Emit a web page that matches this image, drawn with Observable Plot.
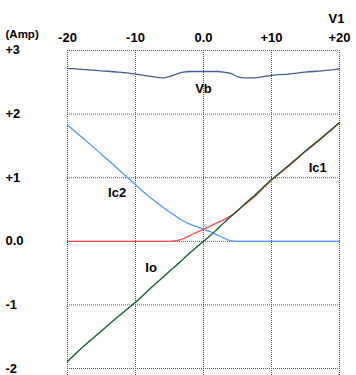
<!DOCTYPE html>
<html>
<head>
<meta charset="utf-8">
<script src="https://cdn.jsdelivr.net/npm/d3@7"></script>
<script src="https://cdn.jsdelivr.net/npm/@observablehq/plot@0.6"></script>
<style>
  html, body { margin: 0; padding: 0; background: #fff; }
  #chart svg { display: block; }
</style>
</head>
<body>
<div id="chart"></div>
<script>
const V   = [-20,-17.5,-15,-12.5,-10,-7.5,-6,-5,-4,-3,-2,-1,0,1,2,3,4,5,6,7.5,10,12.5,15,17.5,20];
const Vb  = [2.72,2.70,2.68,2.66,2.63,2.59,2.57,2.59,2.63,2.66,2.67,2.67,2.67,2.67,2.67,2.66,2.64,2.59,2.57,2.57,2.61,2.63,2.66,2.68,2.71];
const Ic1 = [0,0,0,0,0,0,0,0,0.01,0.04,0.09,0.14,0.19,0.24,0.29,0.34,0.40,0.48,0.57,0.70,0.96,1.18,1.41,1.63,1.86];
const Ic2 = [1.83,1.60,1.37,1.13,0.89,0.66,0.54,0.46,0.39,0.32,0.27,0.23,0.19,0.15,0.10,0.05,0.01,0,0,0,0,0,0,0,0];
const Io  = [-1.89,-1.64,-1.41,-1.18,-0.96,-0.71,-0.57,-0.47,-0.38,-0.28,-0.18,-0.09,0.0,0.09,0.19,0.29,0.39,0.48,0.58,0.72,0.97,1.19,1.42,1.64,1.87];

const xTicks = [-20,-10,0,10,20];
const yTicks = [3,2,1,0,-1,-2];
const seriesNames = ["Vb","Ic2","Ic1","Io"];
const seriesColors = ["#3f5f91","#4a98ff","#ff4848","#0a5a2a"];
// label anchor points in data units (V1, Amp)
const labelNames = ["Vb","Ic2","Ic1","Io"];
const labelX = [0,-12.7,16.8,-7.7];
const labelY = [2.4,0.77,1.16,-0.41];

const fmt = d => d === 0 ? "0.0" : (d > 0 ? "+" : "") + d;

const rows = (vals, name) => V.map((v, i) => ({v, a: vals[i], s: name}));
const seriesData = [rows(Vb,"Vb"), rows(Ic2,"Ic2"), rows(Ic1,"Ic1"), rows(Io,"Io")];
const labels = labelNames.map((n, i) => ({n, x: labelX[i], y: labelY[i]}));

const font = "Liberation Sans, Arial, sans-serif";
const chart = Plot.plot({
  width: 356,
  height: 375,
  marginTop: 50,
  marginBottom: 0,
  marginLeft: 67,
  marginRight: 17,
  style: {fontFamily: font, fontSize: "13px", fontWeight: "bold", color: "#000", background: "#fff"},
  x: {domain: [-20, 20], axis: null},
  y: {domain: [-2.11, 3], axis: null},
  marks: [
    Plot.gridX(xTicks, {stroke: "#555", strokeOpacity: 1, strokeDasharray: "1,1", strokeWidth: 1}),
    Plot.gridY(yTicks, {stroke: "#555", strokeOpacity: 1, strokeDasharray: "1,1", strokeWidth: 1}),
    Plot.axisX(xTicks, {anchor: "top", tickSize: 0, tickPadding: 9, tickFormat: fmt, label: null, fontSize: 13, fontWeight: "bold"}),
    Plot.text(yTicks.filter(d => d !== 3), {x: -20, y: d => d, text: d => fmt(d), textAnchor: "start", dx: -62, fontSize: 13, fontWeight: "bold"}),
    Plot.text([3], {x: -20, y: d => d, text: d => fmt(d), textAnchor: "start", dx: -62, dy: -1, fontSize: 12.5, fontWeight: "bold"}),
    Plot.text(["(Amp)"], {frameAnchor: "top-left", text: d => d, textAnchor: "start", dx: -62, dy: -16, lineAnchor: "middle", fontSize: 11.5, fontWeight: "bold"}),
    Plot.text(["V1"], {frameAnchor: "top-right", text: d => d, textAnchor: "middle", dx: -3, dy: -32, lineAnchor: "middle", fontSize: 13, fontWeight: "bold"}),
    ...seriesData.map((d, i) => Plot.line(d, {x: "v", y: "a", stroke: seriesColors[i], strokeWidth: 1.3, curve: "monotone-x"})),
    Plot.text(labels, {x: "x", y: "y", text: "n", fontSize: 13, fontWeight: "bold", fill: "#000"})
  ]
});
document.getElementById("chart").appendChild(chart);
</script>
</body>
</html>
